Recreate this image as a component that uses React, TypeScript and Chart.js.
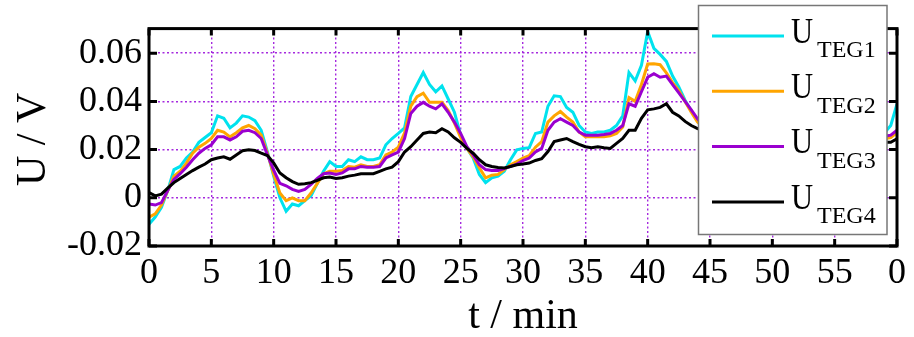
import React, { useEffect, useRef } from 'react';
import { Chart, registerables } from 'chart.js';

Chart.register(...registerables);

// time axis (minutes)
const timeMin = [
  0, 0.5, 1, 1.5, 2, 2.5, 3, 3.5, 4, 4.5, 5, 5.5, 6, 6.5, 7, 7.5, 8, 8.5, 9, 9.5, 10,
  10.5, 11, 11.5, 12, 12.5, 13, 13.5, 14, 14.5, 15, 15.5, 16, 16.5, 17, 17.5, 18, 18.5, 19, 19.5, 20,
  20.5, 21, 21.5, 22, 22.5, 23, 23.5, 24, 24.5, 25, 25.5, 26, 26.5, 27, 27.5, 28, 28.5, 29, 29.5, 30,
  30.5, 31, 31.5, 32, 32.5, 33, 33.5, 34, 34.5, 35, 35.5, 36, 36.5, 37, 37.5, 38, 38.5, 39, 39.5, 40,
  40.5, 41, 41.5, 42, 42.5, 43, 43.5, 44, 44.5, 45, 45.5, 46, 46.5, 47, 47.5, 48, 48.5, 49, 49.5, 50,
  50.5, 51, 51.5, 52, 52.5, 53, 53.5, 54, 54.5, 55, 55.5, 56, 56.5, 57, 57.5, 58, 58.5, 59, 59.5, 60,
];

const uTeg1 = [
  -0.011, -0.008, -0.004, 0.003, 0.0117, 0.013, 0.0165, 0.019, 0.023, 0.025, 0.027, 0.034, 0.033, 0.029, 0.031, 0.034, 0.0335, 0.032, 0.028, 0.019, 0.009,
  0.0, -0.0056, -0.0026, -0.0033, -0.0012, 0.0008, 0.006, 0.011, 0.015, 0.013, 0.013, 0.0158, 0.015, 0.017, 0.0158, 0.0158, 0.0165, 0.022, 0.0246, 0.0267,
  0.029, 0.042, 0.047, 0.052, 0.047, 0.044, 0.0464, 0.041, 0.0355, 0.026, 0.0205, 0.0165, 0.0097, 0.0063, 0.0083, 0.009, 0.011, 0.0158, 0.0199, 0.0205,
  0.0208, 0.0267, 0.0273, 0.038, 0.0423, 0.042, 0.0375, 0.0355, 0.03, 0.0273, 0.0267, 0.0273, 0.0273, 0.028, 0.03, 0.034, 0.052, 0.0485, 0.055, 0.069,
  0.062, 0.0595, 0.0566, 0.0505, 0.046, 0.0405, 0.036, 0.032, 0.03, 0.028, 0.026, 0.024, 0.022, 0.02, 0.018, 0.016, 0.015, 0.014, 0.014, 0.014,
  0.015, 0.016, 0.017, 0.018, 0.019, 0.02, 0.021, 0.022, 0.022, 0.023, 0.023, 0.024, 0.024, 0.025, 0.025, 0.025, 0.026, 0.027, 0.03, 0.039,
];

const uTeg2 = [
  -0.008, -0.0067, -0.003, 0.003, 0.009, 0.011, 0.0144, 0.0185, 0.021, 0.0226, 0.0246, 0.028, 0.0273, 0.0253, 0.027, 0.029, 0.03, 0.0287, 0.026, 0.0185, 0.0097,
  0.002, -0.0012, 0.0, -0.0012, -0.0012, 0.002, 0.006, 0.01, 0.011, 0.011, 0.0113, 0.013, 0.0127, 0.0137, 0.013, 0.013, 0.0137, 0.0178, 0.019, 0.021,
  0.027, 0.038, 0.042, 0.0434, 0.0396, 0.0396, 0.0396, 0.0362, 0.031, 0.025, 0.0205, 0.017, 0.0124, 0.0083, 0.0094, 0.0097, 0.0117, 0.0137, 0.015, 0.0165,
  0.0175, 0.021, 0.0233, 0.0314, 0.034, 0.0358, 0.0335, 0.0314, 0.0273, 0.0253, 0.0253, 0.0253, 0.0253, 0.0257, 0.0267, 0.0294, 0.0416, 0.04, 0.047, 0.0555,
  0.0556, 0.0552, 0.0518, 0.0478, 0.0445, 0.04, 0.0355, 0.0314, 0.029, 0.027, 0.025, 0.023, 0.021, 0.019, 0.017, 0.016, 0.015, 0.015, 0.015, 0.015,
  0.016, 0.016, 0.017, 0.018, 0.019, 0.02, 0.02, 0.021, 0.021, 0.022, 0.022, 0.023, 0.023, 0.023, 0.024, 0.024, 0.024, 0.0245, 0.025, 0.027,
];

const uTeg3 = [
  -0.0026, -0.003, -0.002, 0.003, 0.0076, 0.01, 0.0127, 0.0158, 0.0185, 0.0205, 0.022, 0.0253, 0.0253, 0.024, 0.0253, 0.0276, 0.028, 0.027, 0.0246, 0.0178, 0.0115,
  0.006, 0.005, 0.0035, 0.0026, 0.0035, 0.0056, 0.008, 0.01, 0.0103, 0.0097, 0.0103, 0.012, 0.012, 0.013, 0.0127, 0.0127, 0.013, 0.0165, 0.0178, 0.019,
  0.0246, 0.035, 0.038, 0.0396, 0.038, 0.0369, 0.039, 0.0355, 0.0314, 0.0267, 0.0212, 0.0178, 0.0137, 0.0117, 0.0113, 0.0113, 0.0121, 0.013, 0.014, 0.0154,
  0.0165, 0.019, 0.0205, 0.028, 0.0314, 0.0328, 0.0314, 0.03, 0.0273, 0.026, 0.026, 0.026, 0.0263, 0.0267, 0.028, 0.03, 0.039, 0.038, 0.044, 0.05,
  0.0515, 0.05, 0.0505, 0.047, 0.0435, 0.04, 0.0365, 0.0328, 0.03, 0.028, 0.026, 0.024, 0.022, 0.02, 0.018, 0.017, 0.016, 0.016, 0.016, 0.016,
  0.017, 0.017, 0.018, 0.019, 0.02, 0.02, 0.021, 0.021, 0.022, 0.022, 0.023, 0.023, 0.024, 0.024, 0.024, 0.025, 0.025, 0.0255, 0.026, 0.028,
];

const uTeg4 = [
  0.0022, 0.0008, 0.0015, 0.004, 0.0063, 0.008, 0.0097, 0.0113, 0.0127, 0.014, 0.0158, 0.0165, 0.017, 0.016, 0.0178, 0.0195, 0.0199, 0.0196, 0.0185, 0.0175, 0.0145,
  0.0103, 0.0083, 0.0067, 0.0056, 0.0058, 0.0063, 0.0072, 0.0083, 0.0086, 0.008, 0.0083, 0.009, 0.0094, 0.01, 0.01, 0.01, 0.011, 0.012, 0.0127, 0.015,
  0.019, 0.0212, 0.024, 0.0267, 0.0273, 0.027, 0.0287, 0.0273, 0.0249, 0.023, 0.0205, 0.0185, 0.0158, 0.0137, 0.013, 0.0126, 0.0124, 0.013, 0.0137, 0.014,
  0.0144, 0.0155, 0.0162, 0.0192, 0.0233, 0.024, 0.0246, 0.0233, 0.0222, 0.0212, 0.0208, 0.0212, 0.0208, 0.0205, 0.0226, 0.0246, 0.028, 0.028, 0.033, 0.0365,
  0.0369, 0.0375, 0.039, 0.0355, 0.034, 0.0317, 0.03, 0.0287, 0.028, 0.027, 0.025, 0.023, 0.021, 0.019, 0.018, 0.017, 0.016, 0.016, 0.016, 0.016,
  0.016, 0.017, 0.017, 0.018, 0.018, 0.019, 0.019, 0.02, 0.02, 0.02, 0.021, 0.021, 0.021, 0.021, 0.022, 0.022, 0.022, 0.023, 0.023, 0.0245,
];

const seriesSubscripts = ['TEG1', 'TEG2', 'TEG3', 'TEG4'];
const seriesMain = 'U';
const xTickValues = [0, 5, 10, 15, 20, 25, 30, 35, 40, 45, 50, 55, 60];
const xTickLabels = ['0', '5', '10', '15', '20', '25', '30', '35', '40', '45', '50', '55', '0'];
const yTickValues = [-0.02, 0, 0.02, 0.04, 0.06];
const yTickLabels = ['-0.02', '0', '0.02', '0.04', '0.06'];
const xTitle = 't / min';
const yTitle = 'U / V';

const COLORS = ['#00e2ee', '#ffa500', '#9a00cf', '#000000'];
const GRID = 'rgba(160, 30, 220, 0.95)';
const SERIF = '"Liberation Serif", "Times New Roman", serif';

export default function App() {
  const canvasRef = useRef<HTMLCanvasElement | null>(null);

  useEffect(() => {
    const canvas = canvasRef.current;
    if (!canvas) return;
    const series = [uTeg1, uTeg2, uTeg3, uTeg4];

    const overlay = {
      id: 'overlay',
      afterDatasetsDraw(chart: any) {
        const { ctx, chartArea: a, scales } = chart;
        ctx.save();
        ctx.strokeStyle = '#000';
        ctx.lineWidth = 3;
        ctx.strokeRect(a.left, a.top, a.right - a.left, a.bottom - a.top);
        ctx.beginPath();
        for (const v of xTickValues) {
          const x = scales.x.getPixelForValue(v);
          ctx.moveTo(x, a.bottom);
          ctx.lineTo(x, a.bottom - 7);
          ctx.moveTo(x, a.top);
          ctx.lineTo(x, a.top + 7);
        }
        for (const v of yTickValues) {
          const y = scales.y.getPixelForValue(v);
          ctx.moveTo(a.left, y);
          ctx.lineTo(a.left + 8, y);
          ctx.moveTo(a.right, y);
          ctx.lineTo(a.right - 8, y);
        }
        ctx.stroke();
        ctx.restore();
      },
      afterDraw(chart: any) {
        const { ctx, chartArea: a } = chart;
        ctx.save();
        // axis titles
        ctx.fillStyle = '#000';
        ctx.font = `42px ${SERIF}`;
        ctx.textAlign = 'center';
        ctx.textBaseline = 'alphabetic';
        ctx.fillText(xTitle, (a.left + a.right) / 2, 328);
        ctx.save();
        ctx.translate(31, (a.top + a.bottom) / 2 + 2);
        ctx.rotate(-Math.PI / 2);
        ctx.fillText(yTitle, 0, 14);
        ctx.restore();

        // legend box
        const bx = 698.5, by = 5.5, bw = 188.5, bh = 229;
        ctx.fillStyle = '#fff';
        ctx.fillRect(bx, by, bw, bh);
        ctx.strokeStyle = '#777';
        ctx.lineWidth = 1.5;
        ctx.strokeRect(bx, by, bw, bh);
        for (let i = 0; i < seriesSubscripts.length; i++) {
          const ly = 36 + i * 55.3;
          ctx.strokeStyle = COLORS[i];
          ctx.lineWidth = 3;
          ctx.beginPath();
          ctx.moveTo(712, ly);
          ctx.lineTo(784, ly);
          ctx.stroke();
          ctx.fillStyle = '#000';
          ctx.textAlign = 'left';
          ctx.save();
          ctx.translate(791, ly + 6.7);
          ctx.scale(0.85, 1);
          ctx.font = `36px ${SERIF}`;
          ctx.fillText(seriesMain, 0, 0);
          ctx.restore();
          ctx.font = `24px ${SERIF}`;
          ctx.fillText(seriesSubscripts[i], 817, ly + 21.3);
        }
        ctx.restore();
      },
    };

    const chart = new Chart(canvas, {
      type: 'line',
      data: {
        datasets: series.map((vals, i) => ({
          label: seriesMain + seriesSubscripts[i],
          data: timeMin.map((t, j) => ({ x: t, y: vals[j] })),
          borderColor: COLORS[i],
          backgroundColor: COLORS[i],
          borderWidth: 3,
          pointRadius: 0,
          tension: 0,
          fill: false,
          order: 4 - i,
        })),
      },
      options: {
        responsive: false,
        maintainAspectRatio: false,
        devicePixelRatio: 1,
        animation: false,
        events: [],
        layout: { padding: { top: 25, right: 17, left: 0, bottom: 0 } },
        plugins: { legend: { display: false }, tooltip: { enabled: false } },
        scales: {
          x: {
            type: 'linear',
            min: 0,
            max: 60,
            afterFit: (s: any) => { s.height = 91; },
            afterBuildTicks: (s: any) => { s.ticks = xTickValues.map((v) => ({ value: v })); },
            ticks: {
              callback: (_v: any, idx: number) => xTickLabels[idx],
              font: { family: SERIF, size: 36 },
              color: '#000',
              padding: 6,
              maxRotation: 0,
              autoSkip: false,
            },
            grid: {
              drawTicks: false,
              lineWidth: 1.4,
              color: (c: any) => (c.tick && (c.tick.value === 0 || c.tick.value === 60) ? 'rgba(0,0,0,0)' : GRID),
            },
            border: { display: false, dash: [2, 2.5] },
          },
          y: {
            type: 'linear',
            min: -0.02,
            max: 0.0702,
            afterFit: (s: any) => { s.width = 149; },
            afterBuildTicks: (s: any) => { s.ticks = yTickValues.map((v) => ({ value: v })); },
            ticks: {
              callback: (_v: any, idx: number) => yTickLabels[idx],
              font: { family: SERIF, size: 36 },
              color: '#000',
              padding: 7,
              autoSkip: false,
            },
            grid: {
              drawTicks: false,
              lineWidth: 1.4,
              color: (c: any) => (c.tick && c.tick.value === -0.02 ? 'rgba(0,0,0,0)' : GRID),
            },
            border: { display: false, dash: [2, 2.5] },
          },
        },
      },
      plugins: [overlay],
    });
    return () => chart.destroy();
  }, []);

  return (
    <div style={{ position: 'fixed', left: 0, top: 0, width: 914, height: 337, background: '#fff' }}>
      <canvas ref={canvasRef} width={914} height={337} style={{ display: 'block', width: 914, height: 337 }} />
    </div>
  );
}
